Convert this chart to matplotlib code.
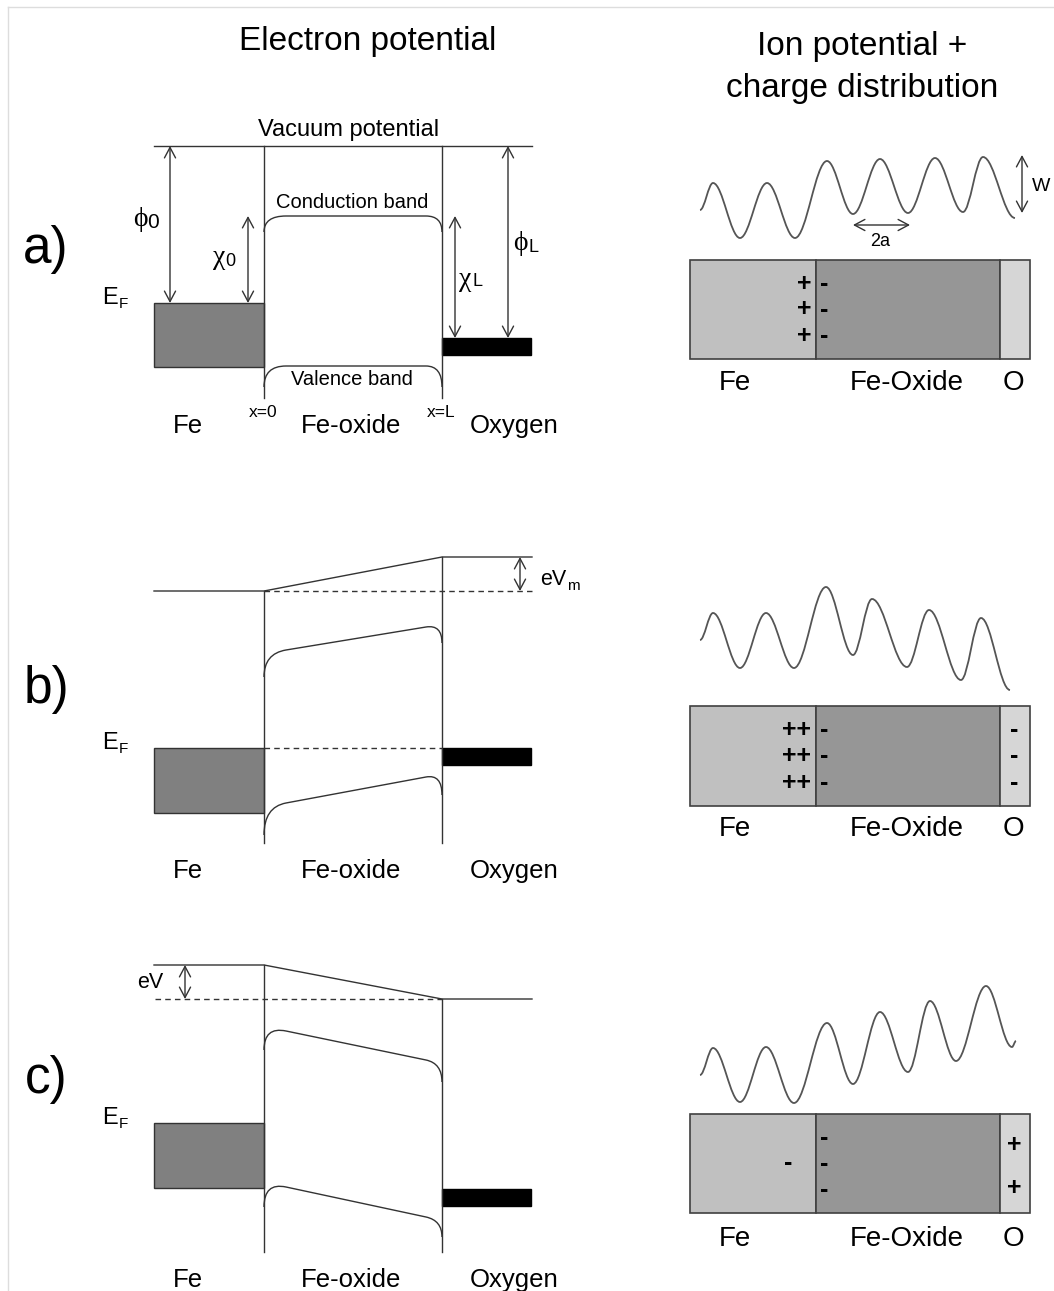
import matplotlib.pyplot as plt
from matplotlib.path import Path
from matplotlib.patches import PathPatch, Rectangle

plt.rcParams['font.family'] = ['Liberation Sans', 'DejaVu Sans']

# ---- electron potential panels (a, b, c), pixel coords, y down ----
panel_labels = ['a)', 'b)', 'c)']
panel_label_y = [250, 690, 1080]
vac_left = [146, 591, 965]        # vacuum level on the Fe side
vac_right = [146, 557, 999]       # vacuum level on the oxygen side
fermi_fe = [303, 748, 1123]
fe_bottom = [367, 813, 1188]
fermi_oxygen = [338, 748, 1189]
oxygen_bottom = [355, 765, 1206]
cb_edges = [[232, 216, 216, 232], [677, 650, 627, 643], [1050, 1031, 1060, 1082]]
vb_edges = [[387, 366, 366, 387], [835, 803, 777, 795], [1207, 1187, 1217, 1237]]
wall_bottom = [398, 843, 1252]
region_label_y = [433, 878, 1287]
region_names = ['Fe', 'Fe-oxide', 'Oxygen']

# ---- ion potential + charge panels ----
wave_x = [
    [700, 713, 740, 767, 795, 827, 853, 880, 908, 935, 963, 983, 1015],
    [700, 713, 740, 766, 794, 826, 853, 872, 907, 929, 961, 981, 1010],
    [700, 713, 740, 766, 794, 827, 853, 880, 908, 930, 956, 986, 1012, 1016],
]
wave_y = [
    [210, 183, 238, 183, 238, 161, 214, 159, 213, 158, 212, 157, 218],
    [640, 613, 668, 613, 668, 587, 655, 599, 667, 610, 680, 618, 690],
    [1075, 1048, 1102, 1047, 1103, 1023, 1084, 1012, 1072, 1001, 1061, 986, 1047, 1041],
]
box_top = [260, 706, 1114]
box_bottom = [359, 806, 1213]
box_label_y = [390, 836, 1246]
box_names = ['Fe', 'Fe-Oxide', 'O']
fe_charges = [['+', '+', '+'], ['++', '++', '++'], ['-']]
oxide_charges = [['-', '-', '-'], ['-', '-', '-'], ['-', '-', '-']]
o_charges = [[], ['-', '-', '-'], ['+', '+']]

LC = '#333333'
fig = plt.figure(figsize=(10.54, 12.91), dpi=100)
ax = fig.add_axes([0, 0, 1, 1])
ax.set_xlim(0, 1054)
ax.set_ylim(1291, 0)
ax.axis('off')

# faint frame at top/left
ax.plot([8, 1054], [7, 7], color='#dddddd', lw=1)
ax.plot([8, 8], [7, 1291], color='#dddddd', lw=1)

ax.text(368, 50, 'Electron potential', fontsize=24, ha='center', va='baseline')
ax.text(862, 55, 'Ion potential +', fontsize=24, ha='center', va='baseline')
ax.text(862, 97, 'charge distribution', fontsize=24, ha='center', va='baseline')

xl, x0, xL, xr = 154, 264, 442, 532
wl, wr = 22, 16


def arrow(xa, ya, xb, yb):
    ax.annotate('', xy=(xb, yb), xytext=(xa, ya),
                arrowprops=dict(arrowstyle='<->,head_length=0.75,head_width=0.4',
                                color=LC, lw=1.0, shrinkA=0, shrinkB=0))


def band(edges):
    y0, y1, y2, y3 = edges
    xa, xb = x0 + wl, xL - wr
    slope = (y2 - y1) / (xb - xa)
    verts = [(x0, y0), (x0, y1 - slope * wl), (xa, y1), (xb, y2),
             (xL, y2 + slope * wr), (xL, y3)]
    codes = [Path.MOVETO, Path.CURVE3, Path.CURVE3, Path.LINETO, Path.CURVE3, Path.CURVE3]
    ax.add_patch(PathPatch(Path(verts, codes), fill=False, ec=LC, lw=1.0))


def wave(xs, ys):
    verts = [(xs[0], ys[0])]
    codes = [Path.MOVETO]
    for i in range(len(xs) - 1):
        dx = xs[i + 1] - xs[i]
        verts += [(xs[i] + 0.36 * dx, ys[i]), (xs[i + 1] - 0.36 * dx, ys[i + 1]), (xs[i + 1], ys[i + 1])]
        codes += [Path.CURVE4] * 3
    ax.add_patch(PathPatch(Path(verts, codes), fill=False, ec='#555555', lw=1.3))


for i in range(3):
    # panel letter
    ax.text(46, panel_label_y[i], panel_labels[i], fontsize=37, ha='center', va='center')
    # vacuum level
    ax.plot([xl, x0, xL, xr], [vac_left[i], vac_left[i], vac_right[i], vac_right[i]], color=LC, lw=1.0)
    # interfaces
    ax.plot([x0, x0], [vac_left[i], wall_bottom[i]], color=LC, lw=1.0)
    ax.plot([xL, xL], [vac_right[i], wall_bottom[i]], color=LC, lw=1.0)
    # Fe and oxygen levels
    ax.add_patch(Rectangle((xl, fermi_fe[i]), x0 - xl, fe_bottom[i] - fermi_fe[i],
                           fc='#808080', ec=LC, lw=1.0))
    ax.add_patch(Rectangle((xL, fermi_oxygen[i]), xr - 1 - xL, oxygen_bottom[i] - fermi_oxygen[i],
                           fc='black', ec='black', lw=1.0))
    band(cb_edges[i])
    band(vb_edges[i])
    # E_F label
    ax.text(102, fermi_fe[i] + 1, 'E', fontsize=17, ha='left', va='baseline')
    ax.text(119, fermi_fe[i] + 5, 'F', fontsize=11, ha='left', va='baseline')
    for xc, name in zip([188, 351, 514], region_names):
        ax.text(xc, region_label_y[i], name, fontsize=18.5, ha='center', va='baseline')

    # right side: ion potential
    wave(wave_x[i], wave_y[i])
    t, b = box_top[i], box_bottom[i]
    ax.add_patch(Rectangle((690, t), 126, b - t, fc='#c0c0c0', ec='#404040', lw=1.2))
    ax.add_patch(Rectangle((816, t), 184, b - t, fc='#969696', ec='#404040', lw=1.2))
    ax.add_patch(Rectangle((1000, t), 30, b - t, fc='#d6d6d6', ec='#404040', lw=1.2))
    for xc, name in zip([735, 907, 1013], box_names):
        ax.text(xc, box_label_y[i], name, fontsize=20, ha='center', va='baseline')

    h = b - t
    rows = {1: [0.49], 2: [0.31, 0.75], 3: [0.24, 0.5, 0.77]}
    fc = fe_charges[i]
    for s, f in zip(fc, rows[len(fc)]):
        if len(fc) == 1:
            ax.text(788, t + f * h, s, fontsize=18, fontweight='bold', ha='center', va='center')
        else:
            ax.text(811, t + f * h, s, fontsize=18, fontweight='bold', ha='right', va='center')
    oc = oxide_charges[i]
    for s, f in zip(oc, rows[len(oc)]):
        ax.text(820, t + f * h, s, fontsize=18, fontweight='bold', ha='left', va='center')
    gc = o_charges[i]
    if gc:
        for s, f in zip(gc, rows[len(gc)]):
            ax.text(1014, t + f * h, s, fontsize=18, fontweight='bold', ha='center', va='center')

# ---- annotations, panel a ----
ax.text(349, 136, 'Vacuum potential', fontsize=17, ha='center', va='baseline')
ax.text(352, 208, 'Conduction band', fontsize=14.5, ha='center', va='baseline')
ax.text(352, 385, 'Valence band', fontsize=14.5, ha='center', va='baseline')
ax.text(263, 417, 'x=0', fontsize=12.5, ha='center', va='baseline')
ax.text(441, 417, 'x=L', fontsize=12.5, ha='center', va='baseline')

serif = ['Liberation Serif', 'DejaVu Serif']
arrow(170, 146, 170, 303)
ax.text(140, 219, '\u03d5', fontsize=20, family=serif, ha='center', va='center')
ax.text(147, 228, '0', fontsize=15, ha='left', va='baseline')
arrow(248, 216, 248, 303)
ax.text(219, 257, '\u03c7', fontsize=20, family=serif, ha='center', va='center')
ax.text(225, 266, '0', fontsize=13, ha='left', va='baseline')
arrow(455, 216, 455, 338)
ax.text(465, 279, '\u03c7', fontsize=20, family=serif, ha='center', va='center')
ax.text(473, 286, 'L', fontsize=13, ha='left', va='baseline')
arrow(508, 146, 508, 338)
ax.text(520, 243, '\u03d5', fontsize=20, family=serif, ha='center', va='center')
ax.text(528, 252, 'L', fontsize=13, ha='left', va='baseline')

# right side of panel a
arrow(853, 225, 910, 225)
ax.text(880, 246, '2a', fontsize=13, ha='center', va='baseline')
arrow(1022, 155, 1022, 213)
ax.text(1032, 191, 'W', fontsize=14, ha='left', va='baseline')

# ---- panel b ----
ax.plot([x0, xr], [591, 591], color=LC, lw=1.0, ls=(0, (4, 3)))
ax.plot([x0, xL], [748, 748], color=LC, lw=1.0, ls=(0, (4, 3)))
arrow(520, 557, 520, 591)
ax.text(540, 585, 'eV', fontsize=15.5, ha='left', va='baseline')
ax.text(567, 590, 'm', fontsize=11, ha='left', va='baseline')

# ---- panel c ----
ax.plot([155, xL], [999, 999], color=LC, lw=1.0, ls=(0, (4, 3)))
arrow(185, 965, 185, 999)
ax.text(137, 988, 'eV', fontsize=15.5, ha='left', va='baseline')

fig.savefig('out.png', dpi=100)
